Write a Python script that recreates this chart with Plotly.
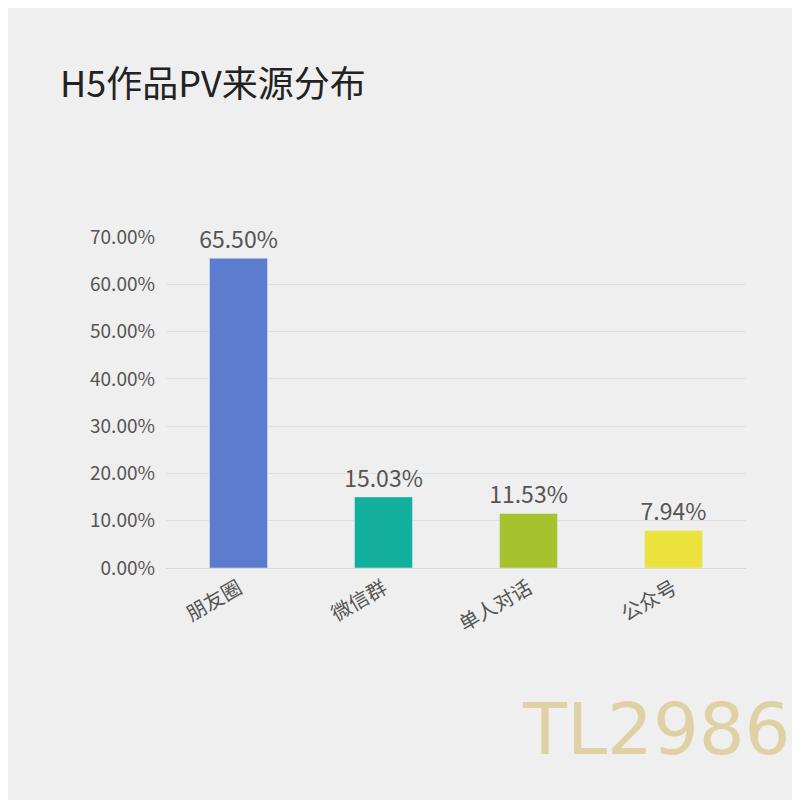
import plotly.graph_objects as go

categories = ["朋友圈", "微信群", "单人对话", "公众号"]
values = [65.50, 15.03, 11.53, 7.94]
labels = ["65.50%", "15.03%", "11.53%", "7.94%"]
colors = ["#5b7ccf", "#14b09e", "#a7c12f", "#ebe23d"]
tick_vals = [0, 10, 20, 30, 40, 50, 60, 70]
tick_text = ["0.00%", "10.00%", "20.00%", "30.00%", "40.00%", "50.00%", "60.00%", "70.00%"]

fig = go.Figure(go.Bar(
    x=categories, y=values, marker_color=colors, text=labels,
    textposition="outside", cliponaxis=False,
    textfont=dict(size=23, color="#555555", family="Noto Sans CJK SC"),
))
fig.update_layout(
    width=800, height=800, paper_bgcolor="#efefef", plot_bgcolor="#efefef",
    margin=dict(l=158, r=62, t=229, b=240), bargap=0.6, showlegend=False,
    uniformtext=dict(minsize=23, mode="show"),
    font=dict(family="Noto Sans CJK SC", color="#555555"),
    title=dict(text="H5作品PV来源分布", x=0.065, xanchor="left", y=0.905, yanchor="middle",
               font=dict(size=36, color="#222222", family="Noto Sans CJK SC")),
    xaxis=dict(tickangle=-30, tickfont=dict(size=20, color="#555555"), showline=True,
               linecolor="#d8d8d8", ticks=""),
    yaxis=dict(range=[0, 70], tickvals=tick_vals, ticktext=tick_text,
               tickfont=dict(size=19, color="#555555"), gridcolor="#e0e0e0",
               zeroline=False, ticklabelstandoff=10),
    annotations=[dict(text="TL2986", x=1.08, y=-0.62, xref="paper", yref="paper",
                      xanchor="right", yanchor="bottom", showarrow=False,
                      font=dict(size=72, color="rgba(210,180,90,0.5)", family="DejaVu Sans"))],
)
fig.write_html("out.html")
